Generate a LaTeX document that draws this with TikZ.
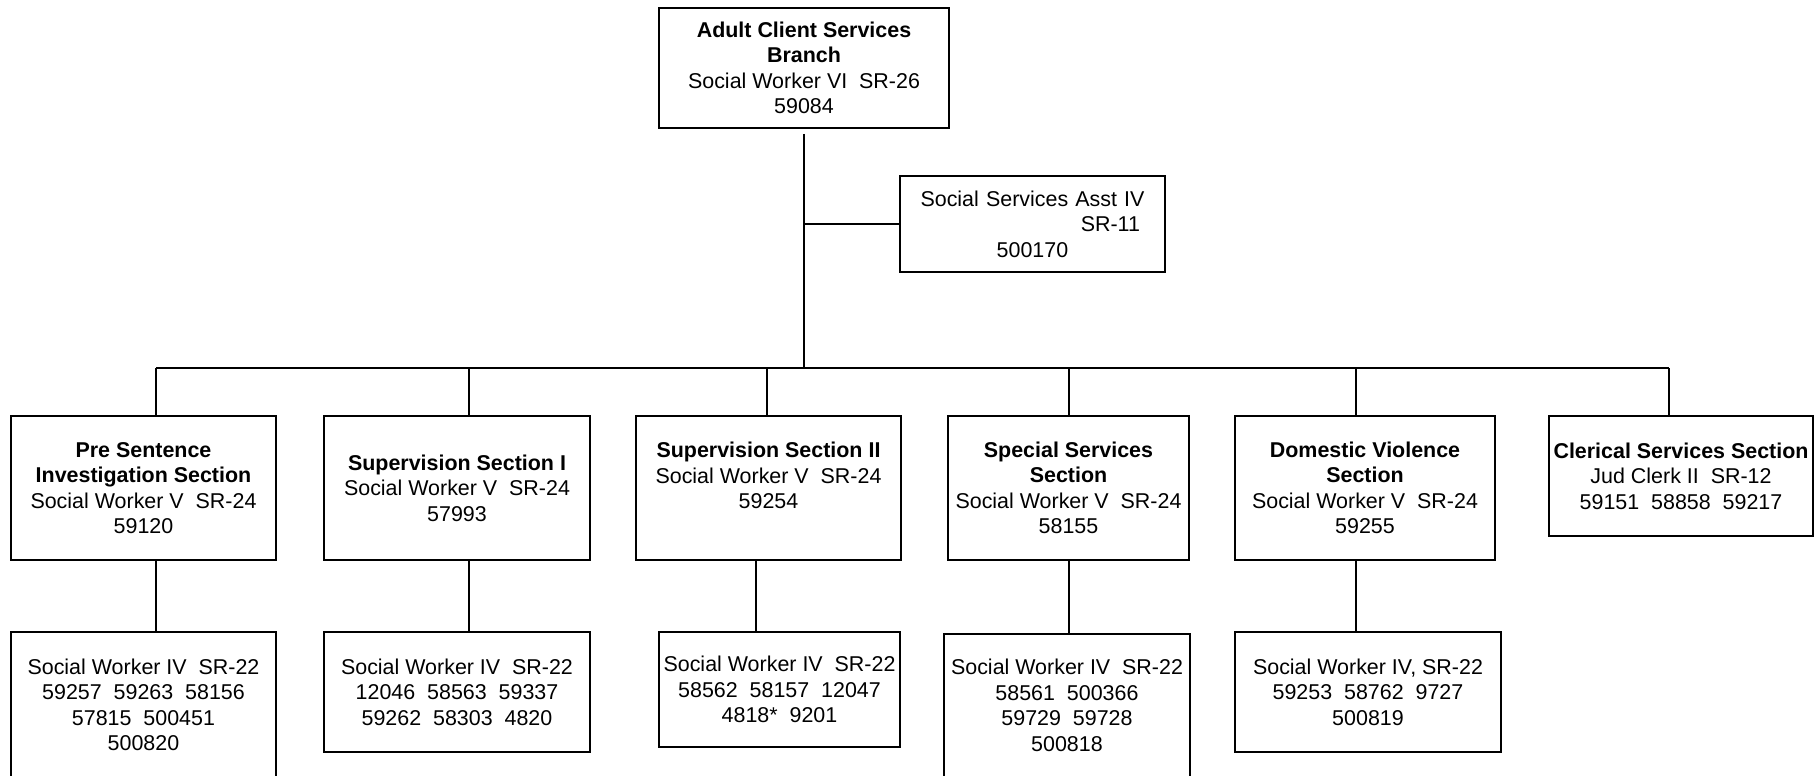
\documentclass[tikz,border=0pt]{standalone}
\usepackage{fontspec}
\setmainfont{Liberation Sans}
\usetikzlibrary{positioning,calc}
\newcommand{\unitfont}{\fontsize{12.2}{14.5}\selectfont}

\begin{document}
\begin{tikzpicture}[x=0.02cm,y=-0.02cm,
  unit/.style={draw,line width=1.1pt,align=center,inner sep=0pt,font=\unitfont},
  link/.style={line width=0.8pt}]
  \useasboundingbox (0,0) rectangle (1820,775);
  \clip (0,0) rectangle (1820,775);

  \node[unit,minimum width=5.8cm,minimum height=2.4cm] (branch) at (804,68)
    {\textbf{Adult Client Services}\\\textbf{Branch}\\Social Worker VI~~SR-26\\59084};
  \node[unit,minimum width=5.3cm,minimum height=1.92cm,text width=4.7cm] (asst) at (1032.5,224)
    {\mbox{Social Services Asst IV}\\\hfill SR-11\rule{0.2cm}{0pt}\\500170};

  \node[unit,minimum width=5.3cm,minimum height=2.88cm] (pre) at (143.5,488)
    {\textbf{Pre Sentence}\\\textbf{Investigation Section}\\Social Worker V~~SR-24\\59120};
  \node[unit,minimum width=5.32cm,minimum height=2.88cm] (supa) at (457,488)
    {\textbf{Supervision Section I}\\Social Worker V~~SR-24\\57993};
  \node[unit,minimum width=5.3cm,minimum height=2.88cm] (supb) at (768.5,488)
    {\textbf{Supervision Section II}\\Social Worker V~~SR-24\\59254\\~};
  \node[unit,minimum width=4.82cm,minimum height=2.88cm] (spec) at (1068.5,488)
    {\textbf{Special Services}\\\textbf{Section}\\Social Worker V~~SR-24\\58155};
  \node[unit,minimum width=5.2cm,minimum height=2.88cm] (dom) at (1365,488)
    {\textbf{Domestic Violence}\\\textbf{Section}\\Social Worker V~~SR-24\\59255};
  \node[unit,minimum width=5.28cm,minimum height=2.4cm] (cler) at (1681,476)
    {\textbf{Clerical Services Section}\\Jud Clerk II~~SR-12\\59151~~58858~~59217};

  \node[unit,minimum width=5.3cm,minimum height=2.92cm] (wpre) at (143.5,705)
    {Social Worker IV~~SR-22\\59257~~59263~~58156\\57815~~500451\\500820};
  \node[unit,minimum width=5.32cm,minimum height=2.4cm] (wsupa) at (457,692)
    {Social Worker IV~~SR-22\\12046~~58563~~59337\\59262~~58303~~4820};
  \node[unit,minimum width=4.82cm,minimum height=2.3cm] (wsupb) at (779.5,689.5)
    {Social Worker IV~~SR-22\\58562~~58157~~12047\\4818*~~9201};
  \node[unit,minimum width=4.92cm,minimum height=2.86cm] (wspec) at (1067,705.5)
    {Social Worker IV~~SR-22\\58561~~500366\\59729~~59728\\500818};
  \node[unit,minimum width=5.32cm,minimum height=2.4cm] (wdom) at (1368,692)
    {Social Worker IV, SR-22\\59253~~58762~~9727\\500819};

  \coordinate (bus) at (804,368);
  \coordinate (jpre) at (156,368);
  \coordinate (jsupa) at (469,368);
  \coordinate (jsupb) at (767,368);
  \coordinate (jspec) at (1069,368);
  \coordinate (jdom) at (1356,368);
  \coordinate (jcler) at (1669,368);
  \coordinate (kpre) at (156,0);
  \coordinate (ksupa) at (469,0);
  \coordinate (ksupb) at (756,0);
  \coordinate (kspec) at (1069,0);
  \coordinate (kdom) at (1356,0);

  \draw[link] ([yshift=-0.1cm]branch.south) -- (bus);
  \draw[link] (branch.south |- asst.west) -- (asst.west);
  \draw[link] (jpre) -- (jcler);
  \foreach \n in {pre,supa,supb,spec,dom,cler}
    \draw[link] (j\n) -- (j\n |- \n.north);
  \foreach \n in {pre,supa,supb,spec,dom}
    \draw[link] (k\n |- \n.south) -- (k\n |- w\n.north);
\end{tikzpicture}
\end{document}
